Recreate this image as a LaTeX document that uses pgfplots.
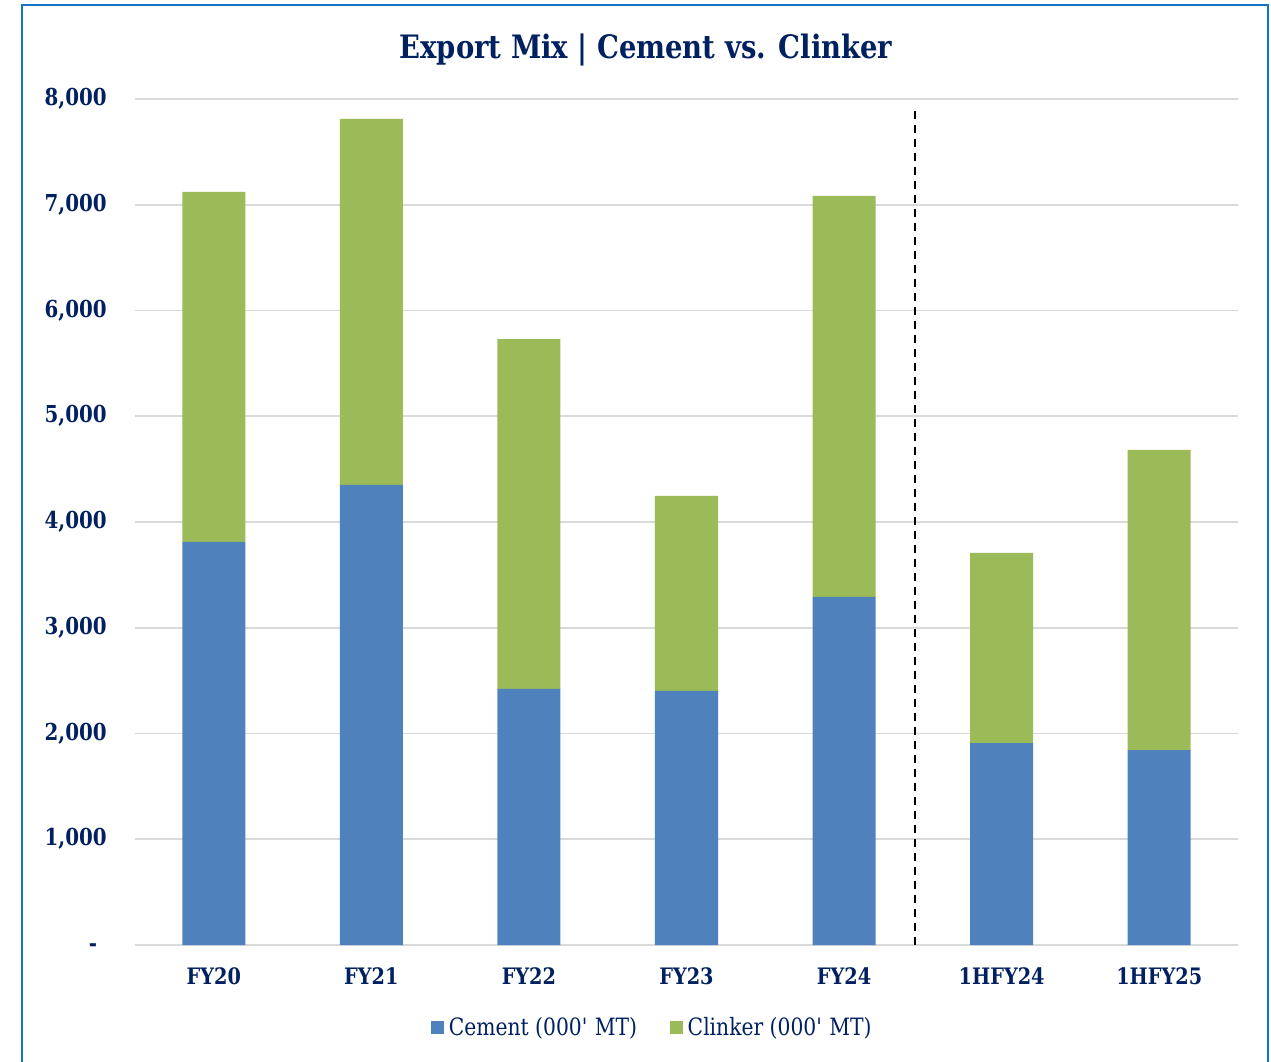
\documentclass[border=0pt]{standalone}
\usepackage{fontspec}
\setmainfont{DejaVu Serif}[FakeStretch=0.85]
\usepackage{pgfplots}
\usepackage{pgfplotstable}
\pgfplotsset{compat=1.18}
\definecolor{navy}{RGB}{0,32,96}
\definecolor{cblue}{RGB}{79,129,189}
\definecolor{cgreen}{RGB}{155,187,89}
\definecolor{gridc}{RGB}{217,217,217}
\definecolor{framec}{RGB}{20,115,195}

\pgfplotstableread{
x cement clinker
0 3811 3310
1 4350 3461
2 2421 3309
3 2402 1844
4 3291 3792
5 1910 1797
6 1844 2837
}\datatable

\begin{document}
\begin{tikzpicture}
\useasboundingbox (0pt,0pt) rectangle (953.25pt,-796.5pt);
\begin{scope}
\clip (0pt,0pt) rectangle (953.25pt,-796.5pt);
\draw[framec, line width=1.5pt] (16.5pt,-3.75pt) rectangle (951pt,-820pt);
\end{scope}
\node[font=\bfseries\fontsize{24.2}{29}\selectfont, text=navy] at (484.5pt,-37.5pt) {Export Mix | Cement vs. Clinker};
\begin{axis}[
  at={(101.25pt,-708.75pt)}, anchor=south west,
  scale only axis, width=827.25pt, height=634.5pt,
  ybar stacked, bar width=0.4,
  xmin=-0.5, xmax=6.5, ymin=0, ymax=8000,
  xtick={0,...,6},
  xticklabels={FY20,FY21,FY22,FY23,FY24,1HFY24,1HFY25},
  ytick={0,1000,...,8000},
  yticklabels={{-\rule{7.25pt}{0pt}\rule{0pt}{9pt}},{1,000},{2,000},{3,000},{4,000},{5,000},{6,000},{7,000},{8,000}},
  /pgf/number format/assume math mode=true,
  axis line style={draw=none},
  major tick length=0pt,
  tick style={draw=none},
  ymajorgrids, grid style={gridc, line width=1.4pt},
  yticklabel style={inner sep=0pt, anchor=east, xshift=-21pt, font=\bfseries\fontsize{17.5}{20}\selectfont, text=navy},
  xticklabel style={inner sep=0pt, anchor=north, yshift=-16.5pt, font=\bfseries\fontsize{17}{20}\selectfont, text=navy},
  legend style={at={(0.4695,-0.098)}, anchor=center, draw=none, fill=none,
    legend columns=2, font=\fontsize{17.9}{20}\selectfont, text=navy,
    /tikz/every even column/.append style={column sep=23pt},
    /tikz/every odd column/.append style={column sep=0pt}},
  legend image code/.code={\fill[#1] (0pt,-4.9pt) rectangle (9.75pt,4.9pt); \path (11pt,0pt);},
  legend cell align=left,
]
\addplot[fill=cblue, draw=none] table[x=x, y=cement] {\datatable};
\addlegendentry{Cement (000\textquotesingle\ MT)}
\addplot[fill=cgreen, draw=none] table[x=x, y=clinker] {\datatable};
\addlegendentry{Clinker (000\textquotesingle\ MT)}
\end{axis}
\begin{axis}[
  at={(101.25pt,-708.75pt)}, anchor=south west,
  scale only axis, width=827.25pt, height=634.5pt,
  xmin=-0.5, xmax=6.5, ymin=0, ymax=8000,
  hide axis,
]
\addplot[black, line width=1.5pt, dash pattern=on 6pt off 4.5pt] coordinates {(4.45,0) (4.45,7915)};
\end{axis}
\end{tikzpicture}
\end{document}
